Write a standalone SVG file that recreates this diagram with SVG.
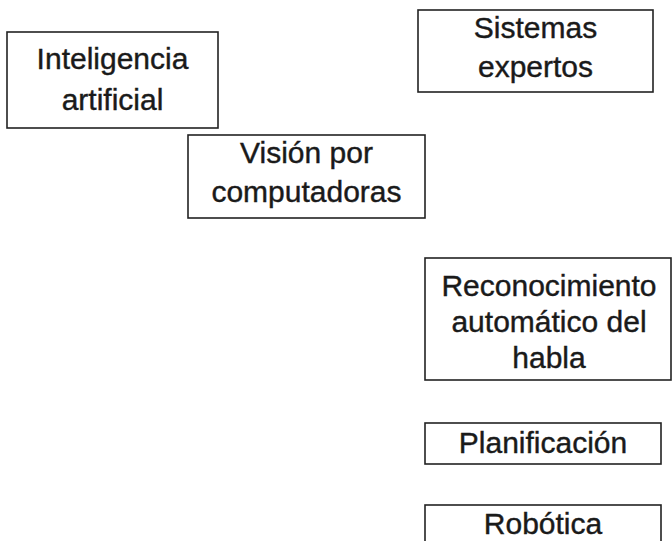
<svg xmlns="http://www.w3.org/2000/svg" width="672" height="541" viewBox="0 0 672 541">
<style>
rect.box{fill:#ffffff;stroke:#222222;stroke-width:1.6}
text{font-family:"Liberation Sans",Arial,sans-serif;font-size:30px;fill:#1a1a1a;stroke:#1a1a1a;stroke-width:0.4;text-anchor:middle}
</style>
<rect x="0" y="0" width="672" height="541" fill="#ffffff"/>
<g id="connectors"></g>
<g id="n-ia">
<rect class="box" x="7" y="32" width="211" height="96"/>
<text x="112.5" y="69">Inteligencia</text>
<text x="112.5" y="110">artificial</text>
</g>
<g id="n-vision">
<rect class="box" x="188" y="135" width="237" height="83"/>
<text x="306.5" y="163">Visión por</text>
<text x="306.5" y="202">computadoras</text>
</g>
<g id="n-sistemas">
<rect class="box" x="418" y="10" width="235" height="82"/>
<text x="535.5" y="38">Sistemas</text>
<text x="535.5" y="77">expertos</text>
</g>
<g id="n-habla">
<rect class="box" x="425" y="258" width="246" height="122"/>
<text x="549" y="296">Reconocimiento</text>
<text x="549" y="332">automático del</text>
<text x="549" y="368">habla</text>
</g>
<g id="n-plan">
<rect class="box" x="425" y="423" width="236" height="41"/>
<text x="543" y="453">Planificación</text>
</g>
<g id="n-robotica">
<rect class="box" x="425" y="505" width="236" height="50"/>
<text x="543" y="534">Robótica</text>
</g>
</svg>
